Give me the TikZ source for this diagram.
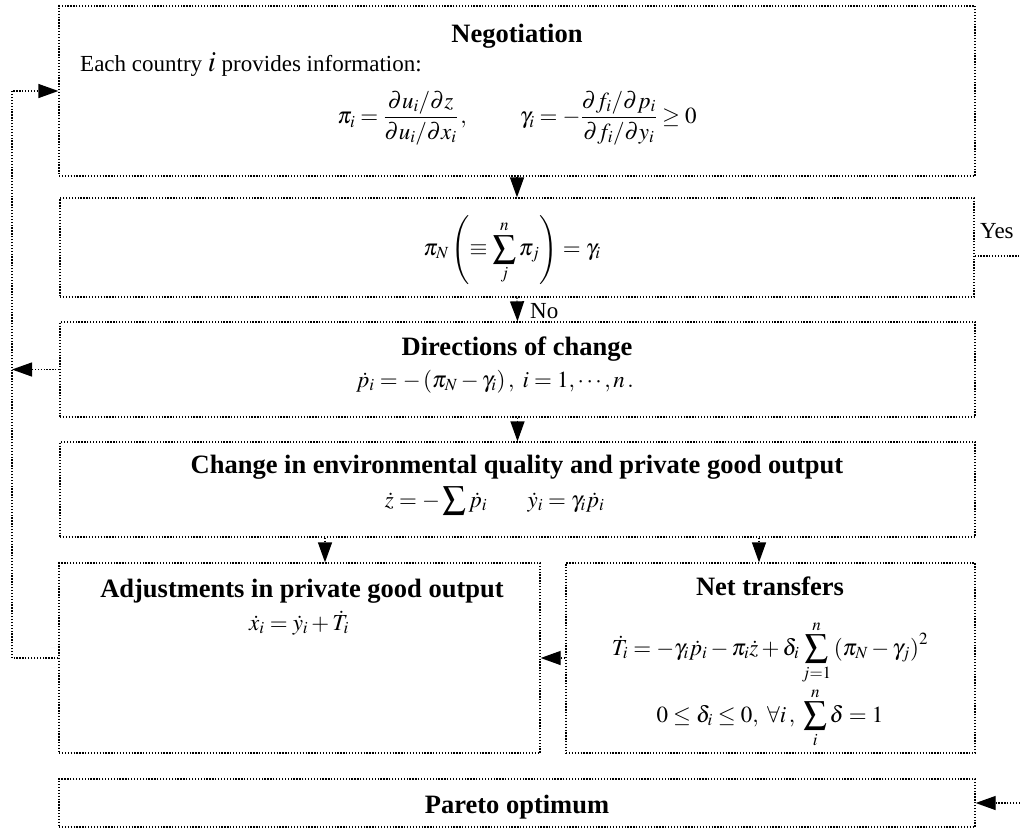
\documentclass[tikz,border=0pt]{standalone}
\usepackage{mathptmx}
\usepackage{fontspec}
\setmainfont{Liberation Serif}
\usetikzlibrary{arrows.meta,calc}
\begin{document}
\begin{tikzpicture}[x=1pt,y=-1pt,
  dotlin/.style={line width=1.3pt, dash pattern=on 1.3pt off 1.6pt},
  box/.style={draw, dotlin, rectangle, inner sep=0pt},
  conn/.style={dotlin, -{Triangle[length=20pt,width=14pt]}},
  ttl/.style={font=\fontsize{26.5}{30}\selectfont\bfseries, inner sep=0pt, anchor=base},
  txt/.style={font=\fontsize{23}{27}\selectfont, inner sep=0pt},
]
\useasboundingbox (0,0) rectangle (1020,831);
% boxes
\node[box, minimum width=916pt, minimum height=170pt] (b1) at (517,91) {};
\node[box, minimum width=914pt, minimum height=99pt] (b2) at (517,247.5) {};
\node[box, minimum width=915pt, minimum height=95pt] (b3) at (517.5,369.5) {};
\node[box, minimum width=915pt, minimum height=95pt] (b4) at (517.5,489.5) {};
\node[box, minimum width=481pt, minimum height=190pt] (b5) at (299.5,658) {};
\node[box, minimum width=409pt, minimum height=190pt] (b6) at (770.5,658) {};
\node[box, minimum width=916pt, minimum height=48pt] (b7) at (517,803) {};
% texts
\node[ttl] (t1) at (517,42) {Negotiation};
\node[txt, anchor=base west] (e1) at (80,71) {Each country {\fontsize{29}{29}\selectfont$i$} provides information:};
\node[txt] (f1) at (517,118) {$\displaystyle \pi_i=\frac{\partial u_i/\partial z}{\partial u_i/\partial x_i}\,,\hspace{2.2em}\gamma_i=-\frac{\partial f_i/\partial p_i}{\partial f_i/\partial y_i}\geq 0$};
\node[txt] (f2) at (512,250) {$\displaystyle \pi_N\left(\equiv\sum_{j}^{n}\pi_j\right)=\gamma_i$};
\node[txt, anchor=west] (no) at (530,311) {No};
\node[txt, anchor=base west] (yes) at (980,238) {Yes};
\node[ttl] (t3) at (517,355) {Directions of change};
\node[txt, anchor=base] (f3) at (495,387) {$\dot p_i=-\left(\pi_N-\gamma_i\right),\ i=1,\cdots,n\,.$};
\node[ttl] (t4) at (517,473) {Change in environmental quality and private good output};
\node[txt, anchor=base] (f4a) at (436,507) {$\displaystyle \dot z=-\sum\dot p_i$};
\node[txt, anchor=base] (f4b) at (566,507) {$\dot y_i=\gamma_i\dot p_i$};
\node[ttl] (t5) at (302,597) {Adjustments in private good output};
\node[txt, anchor=base] (f5) at (299,630) {$\dot x_i=\dot y_i+\dot T_i$};
\node[ttl] (t6) at (770,595) {Net transfers};
\node[txt, anchor=base] (f6a) at (770,655) {$\displaystyle \dot T_i=-\gamma_i\dot p_i-\pi_i\dot z+\delta_i\sum_{j=1}^{n}\left(\pi_N-\gamma_j\right)^2$};
\node[txt, anchor=base] (f6b) at (770,722) {$\displaystyle 0\leq\delta_i\leq 0,\ \forall i\,,\ \sum_{i}^{n}\delta=1$};
\node[ttl] (t7) at (517,813) {Pareto optimum};
% helper coordinates
\coordinate (lx) at (12,0);
\coordinate (a5) at (325,0);
\coordinate (a6) at (759,0);
\coordinate (ye) at (1020,256);
\coordinate (pe) at (1020,803);
% connectors
\draw[conn] (b1.south) -- (b2.north);
\draw[conn] (b2.south) -- (b3.north);
\draw[conn] (b3.south) -- (b4.north);
\draw[conn] (b4.south -| a5) -- (b5.north -| a5);
\draw[conn] (b4.south -| a6) -- (b6.north -| a6);
\draw[conn] (b6.west) -- (b5.east);
\draw[conn] (b5.west) -- (b5.west -| lx) |- (b1.west);
\draw[conn] (b3.west) -- (b3.west -| lx);
\draw[dotlin] (b2.east |- ye) -- (ye);
\draw[conn] (pe) -- (b7.east);
\end{tikzpicture}
\end{document}
